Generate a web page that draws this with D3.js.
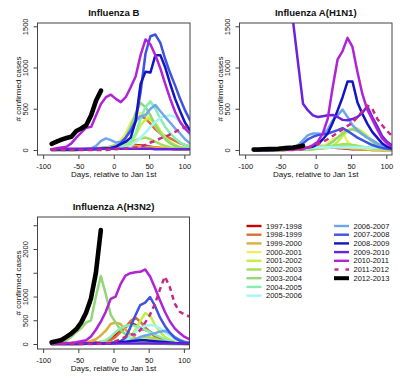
<!DOCTYPE html>
<html>
<head>
<meta charset="utf-8">
<script src="https://cdn.jsdelivr.net/npm/d3@7"></script>
<style>
  body { margin: 0; background: #fff; }
  text { font-family: "Liberation Sans", Arial, Helvetica, sans-serif; fill: #111; }
</style>
</head>
<body>
<svg id="chart" width="400" height="387"></svg>
<script>
// weekly points, days relative to Jan 1st
const days = [-88,-81,-74,-67,-60,-53,-46,-39,-32,-25,-18,-11,-4,3,10,17,24,31,38,45,52,59,66,73,80,87,94,101,108];

const seasons = ["1997-1998","1998-1999","1999-2000","2000-2001","2001-2002","2002-2003","2003-2004","2004-2005",
  "2005-2006","2006-2007","2007-2008","2008-2009","2009-2010","2010-2011","2011-2012","2012-2013"];

const seasonColors = ["#cc0000","#dc6e3a","#dcae3c","#eaf060","#c2f046","#a2e058","#92d678","#86eeb0",
  "#a6f6f6","#6ea6ee","#3f52e2","#1414c4","#6a22de","#b024d6","#c8288a","#000000"];

// one row per season, same order as seasons
const fluB = [
  [0,0,0,0,0,0,5,5,10,10,15,20,25,30,40,50,60,60,55,50,40,30,25,20,15,10,10,5,5],
  [0,0,0,0,0,5,5,10,10,15,20,30,40,60,100,160,250,350,410,380,320,250,200,170,140,110,80,60,40],
  [0,0,0,0,5,5,10,10,15,20,25,30,35,40,45,50,55,50,45,40,35,30,25,20,15,10,10,5,5],
  [0,0,0,0,0,5,5,10,10,15,20,20,30,60,120,200,330,420,450,430,370,290,200,130,80,50,30,20,10],
  [0,0,0,0,0,0,5,5,5,10,10,15,15,20,30,50,90,180,300,370,380,330,230,150,100,60,35,20,10],
  [0,0,0,0,0,0,5,5,10,10,15,20,30,40,60,80,100,120,140,150,130,100,70,50,30,20,10,5,5],
  [0,0,0,0,5,5,10,10,15,20,25,30,40,50,80,150,280,450,570,520,420,300,200,130,80,50,30,20,10],
  [0,0,0,0,0,5,5,5,10,10,15,20,25,30,40,60,100,200,380,520,590,500,380,280,200,140,90,60,40],
  [0,0,0,0,0,0,5,5,5,5,10,10,10,15,20,30,50,100,150,210,280,340,390,410,420,400,340,260,180],
  [5,5,5,5,5,10,10,15,20,50,110,140,120,90,100,150,250,350,410,420,500,545,470,400,330,260,200,130,80],
  [5,5,5,5,5,5,10,10,10,15,15,20,25,40,80,150,230,350,700,1170,1380,1400,1300,1100,930,780,620,480,360],
  [5,5,5,5,5,5,5,10,10,10,15,20,25,40,70,100,150,350,800,950,940,1150,1150,1000,800,620,470,330,240],
  [10,10,15,15,15,15,15,15,15,15,15,15,15,15,15,15,15,15,15,15,15,10,10,10,10,10,10,10,10],
  [10,20,30,40,80,150,210,270,280,420,560,640,670,620,580,640,760,890,1150,1340,1280,1150,990,800,620,460,340,260,200],
  [0,0,0,0,0,0,0,0,0,0,0,0,5,10,15,20,25,30,40,60,90,110,140,160,190,220,250,275,290],
  [75,100,125,145,160,230,260,300,420,600,720]
];

const fluH1N1 = [
  [0,0,0,0,0,0,0,5,5,5,10,10,15,20,25,30,30,25,20,15,10,10,5,5,0,0,0,0,0],
  [0,0,0,0,0,0,0,5,5,5,10,10,15,20,25,30,35,40,40,35,30,20,15,10,5,5,0,0,0],
  [0,0,0,0,0,0,5,5,10,10,15,20,30,40,50,50,45,40,30,20,15,10,5,5,0,0,0,0,0],
  [0,0,0,0,0,0,0,5,5,5,10,10,15,20,40,80,130,150,215,100,50,35,25,15,10,5,5,0,0],
  [0,0,0,0,0,0,0,0,5,5,5,10,10,15,20,20,50,100,170,230,260,260,220,170,110,60,30,15,5],
  [0,0,0,0,0,0,0,5,5,5,10,10,15,20,30,40,50,60,70,70,60,50,40,30,20,10,5,5,0],
  [0,0,0,0,0,0,0,0,5,5,5,10,10,20,30,60,100,150,200,240,250,230,190,150,100,60,30,15,5],
  [5,5,5,5,5,10,10,10,15,15,20,25,30,35,40,40,40,40,40,40,40,35,30,30,25,20,20,15,10],
  [5,5,5,5,5,5,5,10,10,10,15,20,30,30,30,30,30,30,30,30,30,30,30,30,30,30,30,30,30],
  [0,0,0,0,0,5,10,15,20,60,120,180,200,200,190,250,360,420,490,400,300,240,190,150,120,80,50,30,20],
  [0,0,0,0,0,5,5,10,20,40,80,130,160,180,190,200,220,240,265,230,190,150,120,90,60,40,25,15,10],
  [0,0,0,0,0,0,5,5,10,15,20,30,40,70,130,200,330,480,640,830,830,580,440,320,220,150,80,40,20],
  [2500,3500,4500,5000,4500,3500,2500,1900,1550,1050,560,480,420,400,410,420,425,400,365,360,375,400,450,530,400,290,170,100,55],
  [5,5,5,5,5,5,5,10,10,10,15,30,60,100,200,380,760,1100,1200,1360,1250,950,680,490,370,250,140,80,40],
  [0,0,0,0,0,0,0,0,0,5,10,30,50,70,100,130,170,210,250,290,330,400,470,540,500,380,300,230,170],
  [5,5,8,10,12,15,20,25,30,40,50]
];

const fluH3N2 = [
  [0,0,0,0,0,5,10,15,20,30,40,50,120,200,280,350,440,400,320,300,260,190,120,70,40,20,10,5,0],
  [0,0,0,0,0,0,5,10,10,20,30,50,80,150,250,350,480,560,470,350,250,150,80,40,20,10,5,0,0],
  [0,0,5,10,15,20,30,40,60,100,180,280,420,450,420,300,200,130,80,50,30,20,10,5,0,0,0,0,0],
  [0,0,0,0,0,0,0,5,5,10,10,15,20,30,40,60,80,100,120,110,90,70,50,30,20,10,5,0,0],
  [0,0,0,0,0,0,5,5,10,10,15,20,30,40,50,80,150,300,480,650,600,400,250,150,90,50,30,15,5],
  [0,0,0,0,0,0,5,5,5,10,10,15,20,30,40,60,80,100,130,150,140,110,80,50,30,15,10,5,0],
  [10,20,40,80,150,250,330,450,500,1000,1430,1050,620,450,300,200,120,80,50,30,20,10,5,5,0,0,0,0,0],
  [0,0,0,0,0,5,5,10,15,20,30,80,150,250,330,380,400,380,350,300,250,200,150,100,60,40,20,10,5],
  [0,0,0,0,0,0,0,0,5,5,10,15,20,25,30,80,150,250,330,380,400,380,330,250,180,110,60,30,15],
  [0,0,0,0,0,0,5,5,5,10,10,15,15,20,25,30,50,100,150,180,200,230,260,280,230,150,90,50,30],
  [0,0,0,0,0,0,0,5,5,5,5,10,10,20,60,130,350,600,820,870,990,800,560,380,240,130,70,40,20],
  [5,5,5,5,5,5,5,5,10,10,10,15,20,30,40,50,60,70,80,80,70,60,50,40,30,20,15,10,5],
  [10,10,10,10,10,10,10,10,10,10,10,10,10,10,10,10,10,10,10,10,10,10,10,10,10,10,10,10,10],
  [10,10,15,20,25,40,60,80,160,300,470,680,950,1000,1260,1440,1490,1510,1520,1570,1420,1180,920,680,480,330,230,150,100],
  [0,0,0,0,0,0,0,0,0,0,5,10,30,60,100,150,200,200,290,450,620,850,1150,1420,1200,850,680,620,580],
  [35,60,85,150,220,310,450,660,960,1500,2400]
];

const xTicks = [-100, -50, 0, 50, 100];
const yTicksFlu = [0, 500, 1000, 1500];
const yTicksH3 = [0, 500, 1000, 1500, 2000, 2500];
const yLabelsH3 = [0, 500, 1000, 2000];

const svg = d3.select("#chart");

const panels = [
  { id: "b", title: "Influenza B", data: fluB, left: 37.5, right: 190, top: 23, bottom: 155,
    ydom: [-61, 1540], ticks: yTicksFlu, labels: yTicksFlu },
  { id: "h1", title: "Influenza A(H1N1)", data: fluH1N1, left: 239.5, right: 392, top: 23, bottom: 155,
    ydom: [-61, 1540], ticks: yTicksFlu, labels: yTicksFlu },
  { id: "h3", title: "Influenza A(H3N2)", data: fluH3N2, left: 37.5, right: 189.5, top: 217, bottom: 349,
    ydom: [-105, 2674], ticks: yTicksH3, labels: yLabelsH3 }
];

panels.forEach(p => {
  const x = d3.scaleLinear().domain([-108, 108]).range([p.left, p.right]);
  const y = d3.scaleLinear().domain(p.ydom).range([p.bottom, p.top]);
  const g = svg.append("g");

  svg.append("clipPath").attr("id", "clip-" + p.id)
    .append("rect")
    .attr("x", p.left).attr("y", p.top)
    .attr("width", p.right - p.left).attr("height", p.bottom - p.top);

  const line = d3.line()
    .defined(d => d[1] != null)
    .x(d => x(d[0]))
    .y(d => y(d[1]));

  const lines = g.append("g").attr("clip-path", "url(#clip-" + p.id + ")");
  p.data.forEach((vals, i) => {
    const pts = days.map((d, j) => [d, vals[j]]);
    const path = lines.append("path")
      .attr("d", line(pts))
      .attr("fill", "none")
      .attr("stroke", seasonColors[i])
      .attr("stroke-width", i == 15 ? 4.6 : 2.5)
      .attr("stroke-linejoin", "round")
      .attr("stroke-linecap", i == 14 ? "butt" : "round");
    if (i == 14) path.attr("stroke-dasharray", "5,4");
  });

  // box
  g.append("rect")
    .attr("x", p.left).attr("y", p.top)
    .attr("width", p.right - p.left).attr("height", p.bottom - p.top)
    .attr("fill", "none").attr("stroke", "#444").attr("stroke-width", 1);

  const xa = g.append("g")
    .attr("transform", `translate(0,${p.bottom})`)
    .call(d3.axisBottom(x).tickValues(xTicks).tickSize(4).tickFormat(d => String(d)));
  xa.select(".domain").remove();
  xa.selectAll("line").attr("stroke", "#444");
  xa.selectAll("text").attr("y", 14).attr("dy", 0)
    .style("font-size", "7.5px").style("font-family", null).attr("fill", "#111");

  const ya = g.append("g")
    .attr("transform", `translate(${p.left},0)`)
    .call(d3.axisLeft(y).tickValues(p.ticks).tickSize(4)
      .tickFormat(d => p.labels.includes(d) ? String(d) : ""));
  ya.select(".domain").remove();
  ya.selectAll("line").attr("stroke", "#444");
  ya.selectAll("text")
    .attr("transform", "rotate(-90)")
    .attr("x", 0).attr("y", -9.5).attr("dy", 0)
    .attr("text-anchor", "middle")
    .style("font-size", "7.5px").style("font-family", null).attr("fill", "#111");

  g.append("text")
    .attr("x", (p.left + p.right) / 2).attr("y", p.top - 7)
    .attr("text-anchor", "middle")
    .style("font-size", "9.6px").style("font-weight", "bold")
    .text(p.title);

  g.append("text")
    .attr("x", (p.left + p.right) / 2).attr("y", p.bottom + 22)
    .attr("text-anchor", "middle")
    .style("font-size", "8px")
    .text("Days, relative to Jan 1st");

  g.append("text")
    .attr("transform", `translate(${p.left - 16.5},${(p.top + p.bottom) / 2}) rotate(-90)`)
    .attr("text-anchor", "middle")
    .style("font-size", "8px")
    .text("# confirmed cases");
});

// legend, two columns
const legend = svg.append("g");
seasons.forEach((s, i) => {
  const col = i < 9 ? 0 : 1;
  const row = col == 0 ? i : i - 9;
  const lx = col == 0 ? 246.5 : 334;
  const ly = 226 + row * 8.7;
  const ln = legend.append("line")
    .attr("x1", lx).attr("x2", lx + 15)
    .attr("y1", ly).attr("y2", ly)
    .attr("stroke", seasonColors[i])
    .attr("stroke-width", i == 15 ? 4 : 2.4);
  if (i == 14) ln.attr("stroke-dasharray", "4,7").attr("x1", lx + 0.5);
  legend.append("text")
    .attr("x", lx + 19.5).attr("y", ly)
    .attr("dy", "0.35em")
    .style("font-size", "7.5px")
    .text(s);
});
</script>
</body>
</html>
